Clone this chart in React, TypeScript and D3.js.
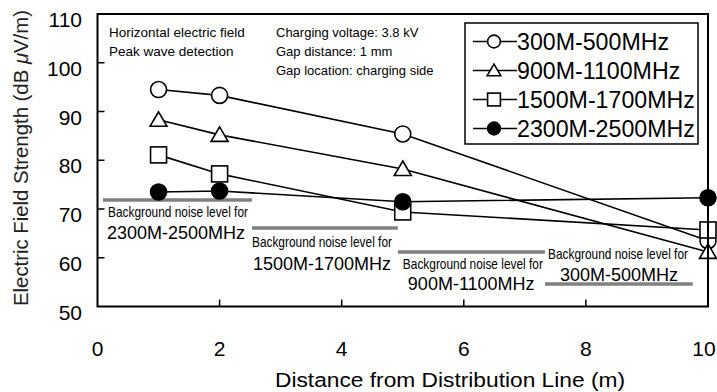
import * as d3 from 'd3'

const W = 717, H = 392
const PL = 97.5, PR = 708, PT = 14, PB = 306.5

// distances from the distribution line (m)
const distances = [1, 2, 5, 10]

const seriesNames = ['300M-500MHz', '900M-1100MHz', '1500M-1700MHz', '2300M-2500MHz']
const markerKinds = ['circle', 'triangle', 'square', 'dot']
const s300 = [94.5, 93.3, 85.4, 63.5]
const s900 = [88.3, 85.2, 78.2, 61.2]
const s1500 = [81.1, 77.2, 69.4, 65.7]
const s2300 = [73.5, 73.7, 71.5, 72.3]

// background noise levels (gray bars)
const noiseNames = ['2300M-2500MHz', '1500M-1700MHz', '900M-1100MHz', '300M-500MHz']
const noiseLevels = [71.85, 66.1, 61.2, 54.6]
const noiseFrom = [0.09, 2.53, 4.92, 7.33]
const noiseTo = [2.53, 4.92, 7.33, 9.75]

const xTicks = [0, 2, 4, 6, 8, 10]
const yTicks = [50, 60, 70, 80, 90, 100, 110]

const notesLeft = ['Horizontal electric field', 'Peak wave detection']
const notesRight = ['Charging voltage: 3.8 kV', 'Gap distance: 1 mm', 'Gap location: charging side']

const FONT = 'Liberation Sans, Arial, Helvetica, sans-serif'

// label offsets relative to the start of each noise bar: [dx1, dy1, dx2, dy2]
const noiseLabelPos = [
  [5, 17, 4, 39],
  [0, 19, 1, 42],
  [5, 17, 10, 38],
  [3, -25, 15, -3],
]

function Marker({ kind, x, y, s = 1 }: { kind: string; x: number; y: number; s?: number }) {
  const sw = 1.6
  if (kind === 'circle') return <circle cx={x} cy={y} r={8 * s} fill="#fff" stroke="#000" strokeWidth={sw} />
  if (kind === 'dot') return <circle cx={x} cy={y} r={8 * s} fill="#000" stroke="#000" strokeWidth={sw} />
  if (kind === 'square') {
    const h = 8 * s
    return <rect x={x - h} y={y - h} width={2 * h} height={2 * h} fill="#fff" stroke="#000" strokeWidth={sw} />
  }
  const p = `M${x},${y - 8 * s}L${x + 8.5 * s},${y + 6.5 * s}L${x - 8.5 * s},${y + 6.5 * s}Z`
  return <path d={p} fill="#fff" stroke="#000" strokeWidth={sw} />
}

export default function App() {
  const x = d3.scaleLinear().domain([0, 10]).range([PL, PR])
  const y = d3.scaleLinear().domain([50, 110]).range([PB, PT])
  const allSeries = [s300, s900, s1500, s2300]
  const line = d3.line<number>().x((_, i) => x(distances[i])).y((v) => y(v))

  return (
    <svg width={W} height={H} style={{ position: 'absolute', left: 0, top: 0, background: '#fff' }} fontFamily={FONT}>
      {/* noise bars */}
      {noiseLevels.map((v, i) => (
        <line key={'n' + i} x1={x(noiseFrom[i])} x2={x(noiseTo[i])} y1={y(v)} y2={y(v)} stroke="#808080" strokeWidth={3.5} />
      ))}
      {noiseLevels.map((v, i) => {
        const [dx1, dy1, dx2, dy2] = noiseLabelPos[i]
        const x0 = x(noiseFrom[i]), y0 = y(v)
        return (
          <g key={'nl' + i}>
            <text x={x0 + dx1} y={y0 + dy1} fontSize={14.5} textLength={140} lengthAdjust="spacingAndGlyphs">Background noise level for</text>
            <text x={x0 + dx2} y={y0 + dy2} fontSize={18}>{noiseNames[i]}</text>
          </g>
        )
      })}

      {/* series */}
      {allSeries.map((s, k) => (
        <path key={'l' + k} d={line(s) || ''} fill="none" stroke="#000" strokeWidth={1.6} />
      ))}
      {allSeries.map((s, k) => s.map((v, i) => (
        <Marker key={'m' + k + '-' + i} kind={markerKinds[k]} x={x(distances[i])} y={y(v)} />
      )))}

      {/* frame + ticks */}
      <rect x={PL} y={PT} width={PR - PL} height={PB - PT} fill="none" stroke="#000" strokeWidth={2} />
      {yTicks.slice(1, -1).map((t) => (
        <line key={'yt' + t} x1={PL} x2={PL + 7} y1={y(t)} y2={y(t)} stroke="#000" strokeWidth={1.5} />
      ))}
      {xTicks.slice(1, -1).map((t) => (
        <line key={'xt' + t} x1={x(t)} x2={x(t)} y1={PB} y2={PB - 7} stroke="#000" strokeWidth={1.5} />
      ))}
      {yTicks.map((t) => (
        <text key={'yl' + t} x={82} y={y(t) + 13} fontSize={21} textAnchor="end">{t}</text>
      ))}
      {xTicks.map((t) => (
        <text key={'xl' + t} x={Math.min(x(t), 704)} y={356} fontSize={21} textAnchor="middle">{t}</text>
      ))}

      {/* axis titles */}
      <text x={450} y={387} fontSize={20} textAnchor="middle" textLength={350} lengthAdjust="spacingAndGlyphs">Distance from Distribution Line (m)</text>
      <text transform="translate(28,158) rotate(-90)" fontSize={19.5} textAnchor="middle" fill="#222" textLength={296} lengthAdjust="spacingAndGlyphs">
        Electric Field Strength (dB <tspan fontStyle="italic">μ</tspan>V/m)
      </text>

      {/* notes */}
      {notesLeft.map((t, i) => (
        <text key={'tl' + i} x={109} y={37 + i * 19} fontSize={13.5}>{t}</text>
      ))}
      {notesRight.map((t, i) => (
        <text key={'tr' + i} x={276} y={37 + i * 19} fontSize={13}>{t}</text>
      ))}

      {/* legend */}
      <rect x={465} y={23} width={233} height={121} fill="#fff" stroke="#000" strokeWidth={1.5} />
      {seriesNames.map((n, i) => {
        const ly = 41.5 + i * 29
        return (
          <g key={'lg' + i}>
            <line x1={473} x2={517} y1={ly} y2={ly} stroke="#000" strokeWidth={1.6} />
            <Marker kind={markerKinds[i]} x={494} y={ly} s={0.8} />
            <text x={517} y={ly + 8} fontSize={23.2}>{n}</text>
          </g>
        )
      })}
    </svg>
  )
}
